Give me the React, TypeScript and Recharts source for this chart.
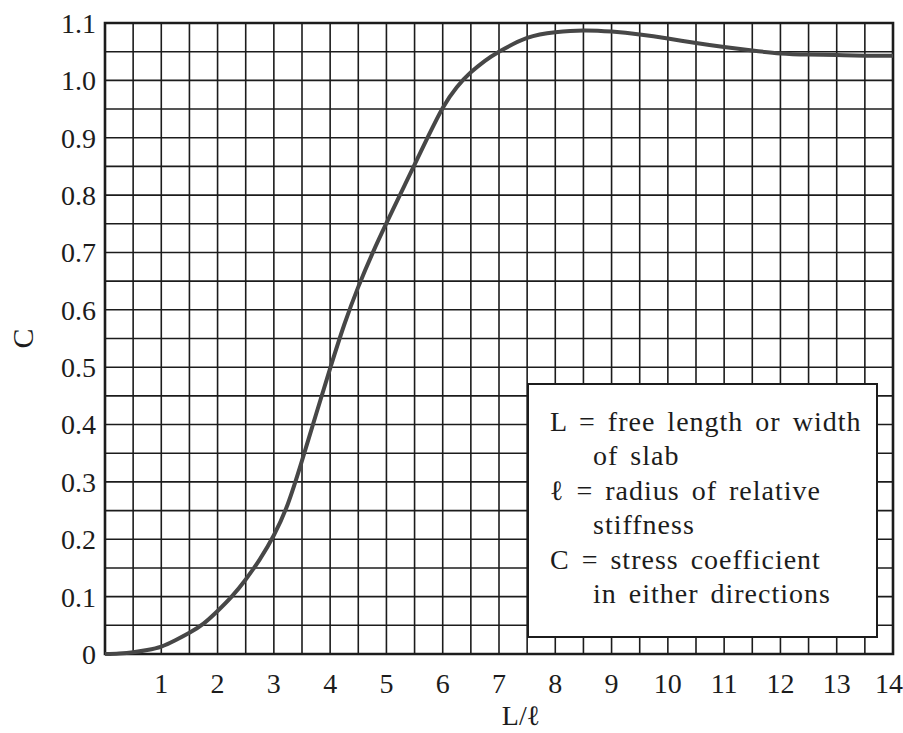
import { LineChart, Line, XAxis, YAxis, CartesianGrid, ReferenceArea, Label } from "recharts";

// L/ℓ values and the stress coefficient C
const lengthRatio = [
  0, 0.25, 0.5, 0.75, 1, 1.25, 1.5, 1.75, 2, 2.25, 2.5, 2.75, 3, 3.25, 3.5, 3.75, 4, 4.25, 4.5, 4.75,
  5, 5.25, 5.5, 5.75, 6, 6.25, 6.5, 6.75, 7, 7.5, 8, 8.5, 9, 9.5, 10, 10.5, 11, 11.5, 12, 12.5, 13, 13.5, 14,
];
const stressCoef = [
  0, 0.001, 0.003, 0.007, 0.013, 0.024, 0.037, 0.053, 0.075, 0.1, 0.13, 0.165, 0.207, 0.262, 0.337, 0.418, 0.498, 0.574, 0.64, 0.698,
  0.751, 0.802, 0.853, 0.904, 0.952, 0.988, 1.014, 1.034, 1.05, 1.074, 1.084, 1.087, 1.085, 1.08, 1.073, 1.065, 1.058, 1.052, 1.047, 1.045, 1.044, 1.043, 1.043,
];

// grid every 0.5 on x, every 0.05 on y; labels only on the whole steps
const xGridTicks = [
  0, 0.5, 1, 1.5, 2, 2.5, 3, 3.5, 4, 4.5, 5, 5.5, 6, 6.5, 7,
  7.5, 8, 8.5, 9, 9.5, 10, 10.5, 11, 11.5, 12, 12.5, 13, 13.5, 14,
];
const yGridTicks = [
  0, 0.05, 0.1, 0.15, 0.2, 0.25, 0.3, 0.35, 0.4, 0.45, 0.5, 0.55,
  0.6, 0.65, 0.7, 0.75, 0.8, 0.85, 0.9, 0.95, 1.0, 1.05, 1.1,
];

const legendLines = [
  { text: "L = free length or width", indent: false },
  { text: "of slab", indent: true },
  { text: "\u2113 = radius of relative", indent: false },
  { text: "stiffness", indent: true },
  { text: "C = stress coefficient", indent: false },
  { text: "in either directions", indent: true },
];

const data = lengthRatio.map((x, i) => ({ x, c: stressCoef[i] }));

const SERIF = "'Liberation Serif', 'Times New Roman', serif";
const INK = "#1c1c1c";

const fmtY = (v: number) => {
  const k = Math.round(v * 100);
  if (k % 10 !== 0) return "";
  return k === 0 ? "0" : v.toFixed(1);
};

function XTick(props: any) {
  const { x, y, payload } = props;
  const v = payload.value;
  if (!Number.isInteger(v) || v <= 0) return null;
  const last = v === 14;
  return (
    <text
      x={last ? x + 10 : x}
      y={y}
      dy="0.71em"
      textAnchor={last ? "end" : "middle"}
      fill={INK}
      fontSize={28}
      fontFamily={SERIF}
    >
      {v}
    </text>
  );
}

export default function App() {
  return (
    <div style={{ position: "absolute", left: 0, top: 0, width: 903, height: 733, background: "#fff" }}>
      <LineChart
        width={903}
        height={733}
        data={data}
        margin={{ top: 23, right: 10, bottom: 0, left: 5 }}
        style={{ fontFamily: SERIF }}
      >
        <CartesianGrid stroke={INK} strokeWidth={1.6} />
        <XAxis
          type="number"
          dataKey="x"
          domain={[0, 14]}
          ticks={xGridTicks}
          interval={0}
          axisLine={false}
          tickLine={false}
          tickSize={0}
          tickMargin={19}
          height={79}
          tick={<XTick />}
        >
          <Label
            value="L/ℓ"
            position="insideBottom"
            offset={8}
            dx={22}
            style={{ fontSize: 28, fill: INK, fontFamily: SERIF }}
          />
        </XAxis>
        <YAxis
          type="number"
          domain={[0, 1.1]}
          ticks={yGridTicks}
          interval={0}
          tickFormatter={fmtY}
          axisLine={false}
          tickLine={false}
          tickSize={0}
          tickMargin={9}
          width={100}
          tick={{ fontSize: 28, fill: INK, fontFamily: SERIF }}
        >
          <Label
            value="C"
            position="center"
            angle={-90}
            dx={-33}
            style={{ fontSize: 30, fill: INK, fontFamily: SERIF }}
          />
        </YAxis>
        <ReferenceArea x1={0} x2={14} y1={0} y2={1.1} fill="none" stroke={INK} strokeWidth={2.6} ifOverflow="visible" />
        <Line
          type="natural"
          dataKey="c"
          stroke="#474747"
          strokeWidth={4}
          dot={false}
          isAnimationActive={false}
        />
      </LineChart>

      <div
        style={{
          position: "absolute",
          left: 527,
          top: 383,
          width: 351,
          height: 255,
          boxSizing: "border-box",
          border: `2px solid ${INK}`,
          background: "#fff",
          padding: "20px 0 0 21px",
          fontFamily: SERIF,
          fontSize: 28,
          letterSpacing: 1,
          wordSpacing: 4,
          lineHeight: "34.4px",
          color: INK,
          whiteSpace: "nowrap",
        }}
      >
        {legendLines.map((ln) => (
          <div key={ln.text} style={{ paddingLeft: ln.indent ? 43 : 0 }}>
            {ln.text}
          </div>
        ))}
      </div>
    </div>
  );
}
